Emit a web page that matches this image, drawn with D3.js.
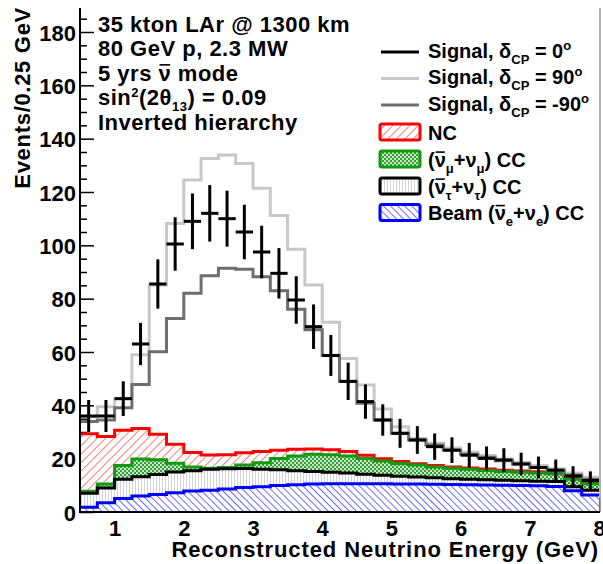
<!DOCTYPE html>
<html>
<head>
<meta charset="utf-8">
<script src="https://cdn.jsdelivr.net/npm/d3@7"></script>
<style>
  body { margin: 0; background: #fff; }
  svg text { font-family: "Liberation Sans", Arial, Helvetica, sans-serif; font-weight: bold; fill: #000; }
</style>
</head>
<body>
<svg id="chart" width="603" height="564"></svg>
<script>
// 30 bins of 0.25 GeV between 0.5 and 8 GeV
const binEdges = d3.range(0.5, 8.0001, 0.25);

// background components (events per bin), stacked bottom -> top
const beamCC = [1.8, 3.5, 5.1, 6.0, 6.6, 7.2, 7.9, 8.2, 8.6, 9.2, 9.5, 9.9, 10.2, 10.5, 10.6,
  10.6, 10.6, 10.6, 10.5, 10.5, 10.4, 10.3, 10.2, 10.1, 10.0, 9.9, 9.8, 9.6, 8.0, 6.4];
const nutauCC = [5.2, 5.5, 7.2, 7.2, 7.5, 7.8, 7.6, 7.8, 7.6, 7.1, 6.5, 5.9, 5.3, 4.7, 4.3,
  4.0, 3.6, 3.2, 2.9, 2.6, 2.4, 2.2, 2.1, 2.0, 1.9, 1.8, 1.7, 1.8, 1.5, 1.8];
const numuCC = [0.8, 1.5, 5.1, 6.7, 5.5, 3.3, 1.4, 0.4, 0.5, 1.3, 2.5, 4.3, 5.5, 6.5, 6.6,
  6.4, 5.9, 5.3, 4.8, 4.5, 4.1, 3.9, 3.7, 3.5, 3.3, 3.2, 3.1, 2.9, 2.8, 2.4];
const ncBkg = [21.5, 17.8, 13.3, 11.4, 9.6, 7.1, 5.4, 5.0, 4.8, 4.6, 4.2, 3.1, 2.5, 1.9, 1.8,
  1.7, 1.2, 0.9, 0.7, 0.5, 0.5, 0.5, 0.5, 0.5, 0.5, 0.5, 0.5, 0.5, 0.5, 0.4];

// signal + background totals
const sigCP0 = [36, 36, 42.5, 63, 85.5, 100.5, 109, 112, 110, 105, 97.5, 89.5, 79.5, 69.5, 58.7,
  49, 41.4, 34.5, 29.5, 27, 24.5, 23.2, 21.3, 20.1, 19.5, 18, 16.7, 15.7, 13.5, 11.8];
const sigCP90 = [35.7, 39.5, 42.6, 59, 85.1, 108.2, 124.5, 132.6, 133.9, 130.7, 121.4, 111.2, 98.5, 85.1, 71.2,
  57.6, 47.6, 38.6, 32, 27.6, 25.8, 24, 22.4, 21.2, 19.9, 18.7, 17.4, 16.2, 14.6, 13];
const sigCPm90 = [33.9, 34.5, 39.1, 47.8, 60.1, 72.6, 82, 88.6, 91.4, 91, 88.2, 83, 76, 68.3, 58.7,
  48.9, 40.8, 34.5, 29.5, 27, 25.1, 23.2, 21.7, 20.5, 19.2, 18, 16.7, 15.5, 13.9, 12.3];

const xTicks = [1, 2, 3, 4, 5, 6, 7, 8];
const yTicks = [0, 20, 40, 60, 80, 100, 120, 140, 160, 180];

const infoLines = [
  [['35 kton LAr @ 1300 km', 'n']],
  [['80 GeV p, 2.3 MW', 'n']],
  [['5 yrs ', 'n'], ['\u03bd', 'bar'], [' mode', 'n']],
  [['sin', 'n'], ['2', 'sup'], ['(2\u03b8', 'n'], ['13', 'sub'], [') = 0.09', 'n']],
  [['Inverted hierarchy', 'n']]
];

const svg = d3.select('#chart');
const FS = 22;

const x = d3.scaleLinear().domain([0.5, 8]).range([80, 599]);
const y = d3.scaleLinear().domain([0, 189]).range([512, 8]);

// fill patterns
const defs = svg.append('defs');
function hatch(id, angle, gap, color, w) {
  const p = defs.append('pattern').attr('id', id).attr('patternUnits', 'userSpaceOnUse')
    .attr('width', gap).attr('height', gap).attr('patternTransform', 'rotate(' + angle + ')');
  p.append('rect').attr('width', gap).attr('height', gap).attr('fill', '#fff');
  p.append('line').attr('x1', 0.5).attr('x2', 0.5).attr('y1', 0).attr('y2', gap)
    .attr('stroke', color).attr('stroke-width', w);
}
hatch('pNC', 45, 6, '#ff8080', 1);
hatch('pBeam', -45, 5, '#6b6bff', 1);
hatch('pTau', 0, 3, '#c8c8c8', 0.8);
const pm = defs.append('pattern').attr('id', 'pMu').attr('patternUnits', 'userSpaceOnUse')
  .attr('width', 4).attr('height', 4);
pm.append('rect').attr('width', 4).attr('height', 4).attr('fill', '#33a033');
pm.append('circle').attr('cx', 1).attr('cy', 1).attr('r', 1).attr('fill', '#fff');
pm.append('circle').attr('cx', 3).attr('cy', 3).attr('r', 1).attr('fill', '#fff');

// axes ticks first (histogram fills cover them like in ROOT)
const yMinor = d3.range(0, 189, 5).filter(v => v % 20 !== 0);
svg.append('g').attr('transform', 'translate(80,0)')
  .call(d3.axisLeft(y).tickValues(yMinor).tickSize(-7).tickFormat(''))
  .call(g => g.select('.domain').remove())
  .selectAll('line').attr('stroke', '#000').attr('stroke-width', 1.5);
const yAx = svg.append('g').attr('transform', 'translate(80,0)')
  .call(d3.axisLeft(y).tickValues(yTicks).tickSize(-14).tickPadding(4));
yAx.select('.domain').remove();
yAx.selectAll('line').attr('stroke', '#000').attr('stroke-width', 1.5);
yAx.selectAll('text').attr('font-size', FS).attr('dy', null).attr('y', 8);

const xAx = svg.append('g').attr('transform', 'translate(0,512)')
  .call(d3.axisBottom(x).tickValues(xTicks).tickSize(-14));
xAx.select('.domain').remove();
xAx.selectAll('line').attr('stroke', '#000').attr('stroke-width', 1.5);
xAx.selectAll('text').attr('font-size', FS).attr('dy', null).attr('y', 23.5);
svg.selectAll('g').attr('font-family', null).attr('font-size', null);

// stacked background
const rows = beamCC.map((v, i) => ({ beam: v, tau: nutauCC[i], mu: numuCC[i], nc: ncBkg[i] }));
const layers = d3.stack().keys(['beam', 'tau', 'mu', 'nc'])(rows);
const layerStyle = {
  beam: { fill: 'url(#pBeam)', stroke: '#0000ff' },
  tau: { fill: 'url(#pTau)', stroke: '#000000' },
  mu: { fill: 'url(#pMu)', stroke: '#119911' },
  nc: { fill: 'url(#pNC)', stroke: '#ff0000' }
};
// repeat the last bin value at the upper edge for step drawing
function steps(vals) {
  return binEdges.map((e, i) => [e, vals[Math.min(i, vals.length - 1)]]);
}
const stepLine = d3.line().curve(d3.curveStepAfter).x(d => x(d[0])).y(d => y(d[1]));
const stepArea = d3.area().curve(d3.curveStepAfter).x(d => x(d[0]))
  .y0(d => y(d[1])).y1(d => y(d[2]));

layers.forEach(L => {
  const pts = binEdges.map((e, i) => {
    const k = Math.min(i, L.length - 1);
    return [e, L[k][0], L[k][1]];
  });
  svg.append('path').attr('d', stepArea(pts)).attr('fill', layerStyle[L.key].fill);
});
// outlines, lower layers drawn last so they stay on top
layers.slice().reverse().forEach(L => {
  svg.append('path').attr('d', stepLine(steps(L.map(d => d[1]))))
    .attr('fill', 'none').attr('stroke', layerStyle[L.key].stroke).attr('stroke-width', 3);
});

// signal curves
svg.append('path').attr('d', stepLine(steps(sigCP90)))
  .attr('fill', 'none').attr('stroke', '#c8c8c8').attr('stroke-width', 3);
svg.append('path').attr('d', stepLine(steps(sigCPm90)))
  .attr('fill', 'none').attr('stroke', '#6e6e6e').attr('stroke-width', 3);

// delta_CP = 0 with statistical errors
const cross = svg.append('g').attr('stroke', '#000').attr('stroke-width', 3);
sigCP0.forEach((v, i) => {
  const x0 = x(binEdges[i]), x1 = x(binEdges[i + 1]), xc = (x0 + x1) / 2;
  const e = Math.sqrt(v);
  cross.append('line').attr('x1', x0).attr('x2', x1).attr('y1', y(v)).attr('y2', y(v));
  cross.append('line').attr('x1', xc).attr('x2', xc).attr('y1', y(v - e)).attr('y2', y(v + e));
});

// frame and axis lines
svg.append('line').attr('x1', 600).attr('x2', 600).attr('y1', 8).attr('y2', 512)
  .attr('stroke', '#999').attr('stroke-width', 1.5);
svg.append('line').attr('x1', 80).attr('x2', 80).attr('y1', 8).attr('y2', 513)
  .attr('stroke', '#000').attr('stroke-width', 2);
svg.append('line').attr('x1', 79).attr('x2', 600).attr('y1', 512).attr('y2', 512)
  .attr('stroke', '#000').attr('stroke-width', 2);

// axis titles
svg.append('text').attr('x', 599).attr('y', 557).attr('text-anchor', 'end')
  .attr('font-size', FS).attr('letter-spacing', 0.9)
  .text('Reconstructed Neutrino Energy (GeV)');
svg.append('text').attr('transform', 'translate(29.5,7) rotate(-90)').attr('text-anchor', 'end')
  .attr('font-size', FS).attr('letter-spacing', 0.7).text('Events/0.25 GeV');

// text with sub/superscripts and overbars
function richText(sel, tx, ty, parts, fs, ss, ls) {
  const t = sel.append('text').attr('x', tx).attr('y', ty).attr('font-size', fs)
    .attr('letter-spacing', ls);
  let shift = 0, idx = 0;
  const bars = [];
  parts.forEach(([s, k]) => {
    const target = k === 'sub' ? 6 : k === 'sup' ? -8 : 0;
    const ts = t.append('tspan').attr('dy', target - shift).text(s);
    if (k === 'sub' || k === 'sup') ts.attr('font-size', ss);
    if (k === 'bar') bars.push(idx);
    shift = target;
    idx += s.length;
  });
  bars.forEach(i => {
    const a = t.node().getStartPositionOfChar(i);
    const b = t.node().getEndPositionOfChar(i);
    sel.append('line').attr('x1', a.x + 1).attr('x2', b.x - 1)
      .attr('y1', ty - fs * 0.72).attr('y2', ty - fs * 0.72)
      .attr('stroke', '#000').attr('stroke-width', 1.6);
  });
  return t;
}

const info = svg.append('g');
infoLines.forEach((parts, i) => richText(info, 98, 31.5 + 24.6 * i, parts, FS, 13, 0.5));

// legend
const legend = svg.append('g');
const sigEntries = [
  { color: '#000000', deg: '0' },
  { color: '#c8c8c8', deg: '90' },
  { color: '#6e6e6e', deg: '-90' }
];
const sigRowY = [50, 76.5, 103];
sigEntries.forEach((s, i) => {
  const cy = sigRowY[i];
  legend.append('line').attr('x1', 381).attr('x2', 419).attr('y1', cy + 2).attr('y2', cy + 2)
    .attr('stroke', s.color).attr('stroke-width', 3);
  richText(legend, 428, cy + 7.5,
    [['Signal, \u03b4', 'n'], ['CP', 'sub'], [' = ' + s.deg, 'n'], ['o', 'sup']], 20, 13, 0);
});
const bkgEntries = [
  { key: 'nc', parts: [['NC', 'n']] },
  { key: 'mu', parts: [['(', 'n'], ['\u03bd', 'bar'], ['\u03bc', 'sub'], ['+\u03bd', 'n'], ['\u03bc', 'sub'], [') CC', 'n']] },
  { key: 'tau', parts: [['(', 'n'], ['\u03bd', 'bar'], ['\u03c4', 'sub'], ['+\u03bd', 'n'], ['\u03c4', 'sub'], [') CC', 'n']] },
  { key: 'beam', parts: [['Beam (', 'n'], ['\u03bd', 'bar'], ['e', 'sub'], ['+\u03bd', 'n'], ['e', 'sub'], [') CC', 'n']] }
];
const bkgRowY = [132, 159, 186, 212.5];
bkgEntries.forEach((b, i) => {
  const cy = bkgRowY[i];
  legend.append('rect').attr('x', 380).attr('y', cy - 8).attr('width', 40).attr('height', 16)
    .attr('rx', 2).attr('fill', layerStyle[b.key].fill)
    .attr('stroke', layerStyle[b.key].stroke).attr('stroke-width', 3);
  richText(legend, 428, cy + 7.5, b.parts, 20, 13, 0);
});
</script>
</body>
</html>
